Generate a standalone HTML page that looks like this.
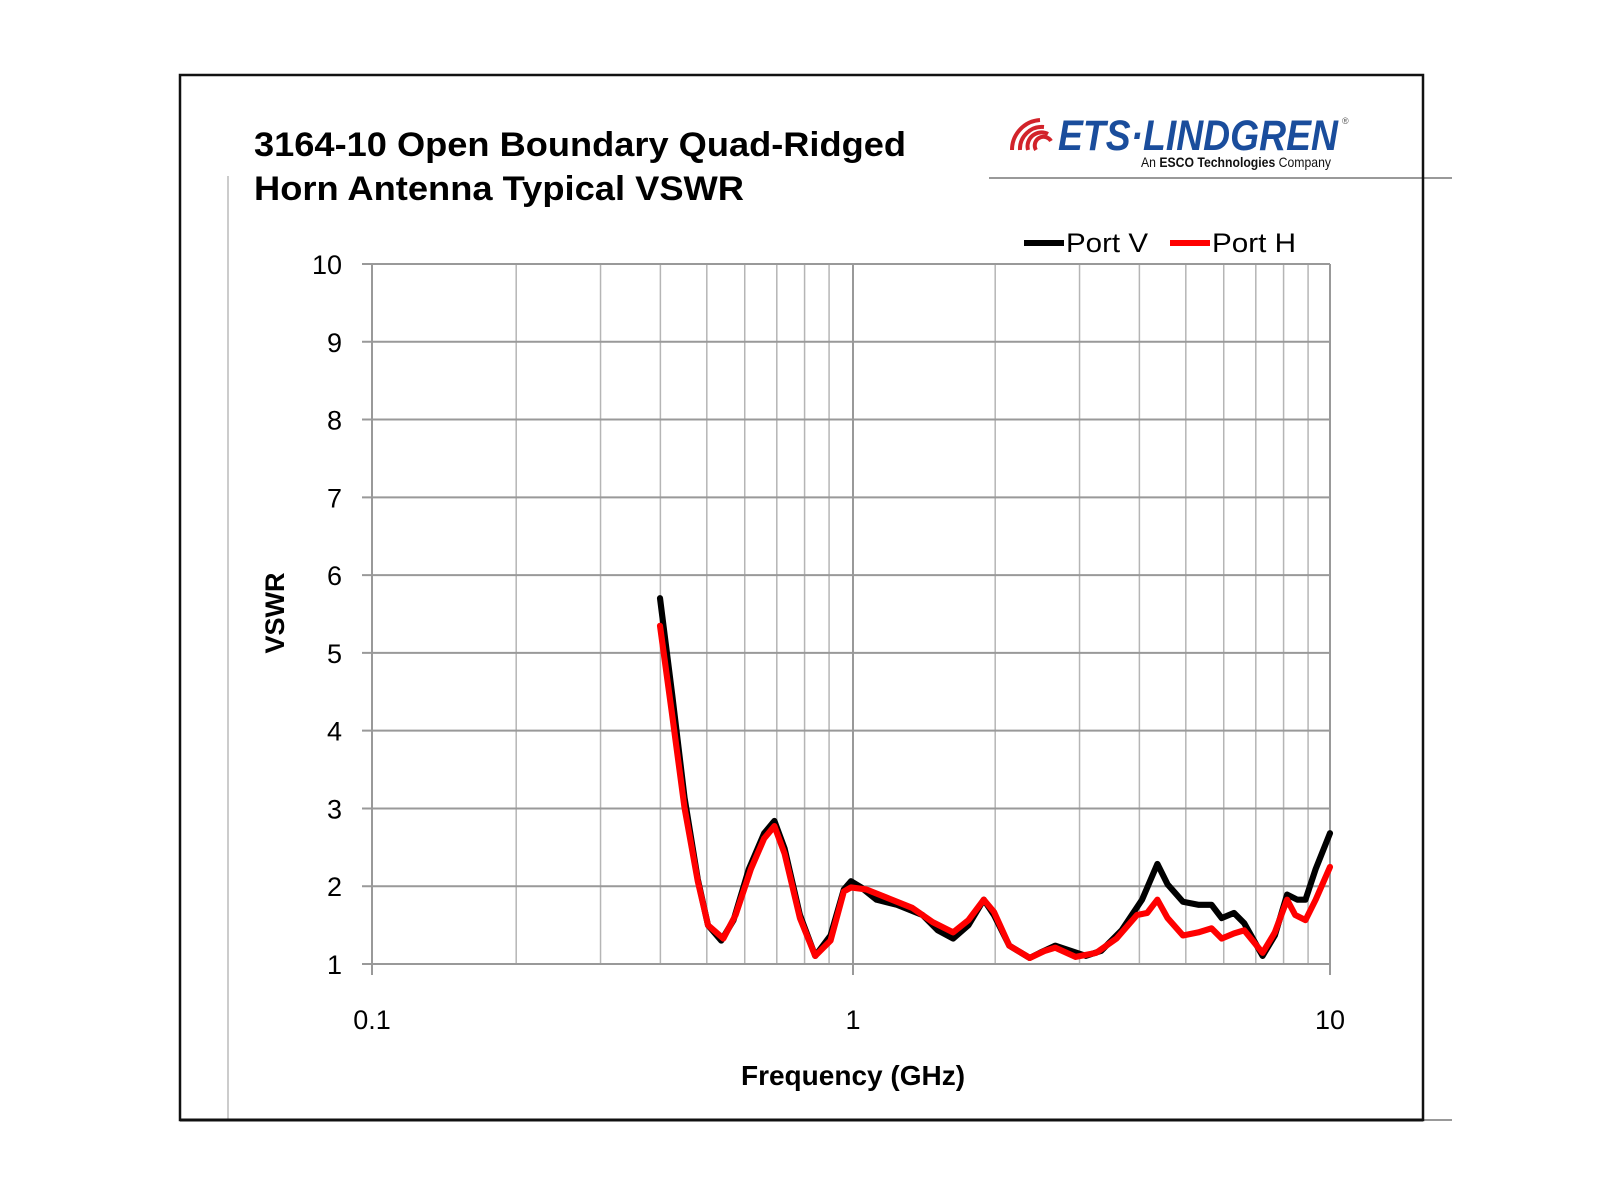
<!DOCTYPE html>
<html><head><meta charset="utf-8"><style>
html,body{margin:0;padding:0;background:#fff;}
svg{display:block;}
</style></head><body>
<svg width="1600" height="1200" viewBox="0 0 1600 1200" xmlns="http://www.w3.org/2000/svg">
<rect width="1600" height="1200" fill="#fff"/>
<line x1="989" y1="178" x2="1452" y2="178" stroke="#999" stroke-width="2"/>
<line x1="228" y1="176" x2="228" y2="1120" stroke="#bbb" stroke-width="1.5"/>
<line x1="228" y1="1120" x2="1452" y2="1120" stroke="#999" stroke-width="2"/>
<rect x="180" y="75" width="1243" height="1045" fill="none" stroke="#111" stroke-width="2.5"/>
<line x1="180" y1="1120" x2="1423" y2="1120" stroke="#111" stroke-width="3"/>
<g font-family="Liberation Sans, Arial, sans-serif" font-weight="bold" font-size="34" fill="#000">
<text x="254" y="156" textLength="652" lengthAdjust="spacingAndGlyphs">3164-10 Open Boundary Quad-Ridged</text>
<text x="254" y="200" textLength="490" lengthAdjust="spacingAndGlyphs">Horn Antenna Typical VSWR</text>
</g>
<g fill="none" stroke="#d2232a" stroke-width="4">
<path d="M1012 150 A 30 30 0 0 1 1040 120"/>
<path d="M1020 150 A 22 22 0 0 1 1044 127"/>
<path d="M1028 150 A 14 14 0 0 1 1048 134"/>
<path d="M1036 150 A 7 7 0 0 1 1051 141"/>
</g>
<text x="1058" y="150" font-family="Liberation Sans, Arial, sans-serif" font-weight="bold" font-style="italic" font-size="43" fill="#1a4d9c" textLength="280" lengthAdjust="spacingAndGlyphs">ETS·LINDGREN</text>
<text x="1342" y="124" font-family="Liberation Sans, sans-serif" font-size="9" fill="#555">®</text>
<text x="1141" y="167" font-family="Liberation Sans, Arial, sans-serif" font-size="14" fill="#111" textLength="190" lengthAdjust="spacingAndGlyphs">An <tspan font-weight="bold">ESCO Technologies</tspan> Company</text>
<line x1="1024" y1="243" x2="1064" y2="243" stroke="#000" stroke-width="6"/>
<text x="1066" y="252" font-family="Liberation Sans, sans-serif" font-size="27" fill="#000" textLength="82" lengthAdjust="spacingAndGlyphs">Port V</text>
<line x1="1170" y1="243" x2="1210" y2="243" stroke="#f00" stroke-width="6"/>
<text x="1212" y="252" font-family="Liberation Sans, sans-serif" font-size="27" fill="#000" textLength="84" lengthAdjust="spacingAndGlyphs">Port H</text>
<g stroke="#b5b5b5" stroke-width="1.5" id="vg"></g>
<g stroke="#999" stroke-width="2" id="hg"></g>
<line x1="372" y1="264" x2="372" y2="975" stroke="#999" stroke-width="2"/>
<line x1="853" y1="264" x2="853" y2="975" stroke="#999" stroke-width="2"/>
<line x1="1330" y1="264" x2="1330" y2="975" stroke="#999" stroke-width="2"/>
<g font-family="Liberation Sans, sans-serif" font-size="27" fill="#000" text-anchor="end" id="yl"></g>
<g font-family="Liberation Sans, sans-serif" font-size="27" fill="#000" text-anchor="middle">
<text x="372" y="1029">0.1</text>
<text x="853" y="1029">1</text>
<text x="1330" y="1029">10</text>
</g>
<text x="853" y="1085" text-anchor="middle" font-family="Liberation Sans, sans-serif" font-weight="bold" font-size="28" fill="#000">Frequency (GHz)</text>
<text transform="translate(284,613) rotate(-90)" text-anchor="middle" font-family="Liberation Sans, sans-serif" font-weight="bold" font-size="27" fill="#000">VSWR</text>
<g transform="translate(372,264) scale(1.0213,1.022) translate(-366,-258)" fill="none" stroke-linejoin="round" stroke-linecap="round" stroke-width="6">
<polyline stroke="#000" points="648,585 660,680 672,780 685,860 695,905 708,920 720,900 735,850 750,815 760,803 770,830 785,895 800,935 815,915 828,870 835,862 845,868 860,880 880,885 905,895 920,910 935,918 950,905 965,880 975,895 990,925 1010,937 1020,932 1035,925 1050,930 1065,935 1080,930 1100,910 1120,880 1135,845 1145,865 1160,882 1175,885 1188,885 1198,898 1210,893 1220,903 1238,935 1250,915 1262,875 1272,880 1280,880 1290,850 1304,815"/>
<polyline stroke="#f00" points="648,612 660,700 672,790 685,862 695,905 710,918 722,895 737,850 750,820 760,808 770,835 785,898 800,935 815,920 828,872 835,868 850,870 870,878 895,888 915,902 935,912 950,900 965,880 975,892 990,925 1010,937 1025,930 1035,927 1055,936 1075,932 1095,918 1115,895 1125,893 1135,880 1145,898 1160,915 1175,912 1188,908 1198,918 1210,913 1220,910 1238,932 1250,912 1262,880 1270,895 1280,900 1290,880 1304,848"/>
</g>
</svg>
<script>
var ns="http://www.w3.org/2000/svg";
var vg=document.getElementById("vg"),hg=document.getElementById("hg"),yl=document.getElementById("yl");
var x0=372,dec=479;
for(var d=0;d<2;d++)for(var k=2;k<10;k++){var x=x0+(d+Math.log10(k))*dec;var l=document.createElementNS(ns,"line");l.setAttribute("x1",x);l.setAttribute("x2",x);l.setAttribute("y1",264);l.setAttribute("y2",964);vg.appendChild(l);}
for(var v=1;v<=10;v++){var y=964-(v-1)*77.78;var l=document.createElementNS(ns,"line");l.setAttribute("x1",362);l.setAttribute("x2",1330);l.setAttribute("y1",y);l.setAttribute("y2",y);hg.appendChild(l);var t=document.createElementNS(ns,"text");t.setAttribute("x",342);t.setAttribute("y",y+10);t.textContent=v;yl.appendChild(t);}
</script>
</body></html>
